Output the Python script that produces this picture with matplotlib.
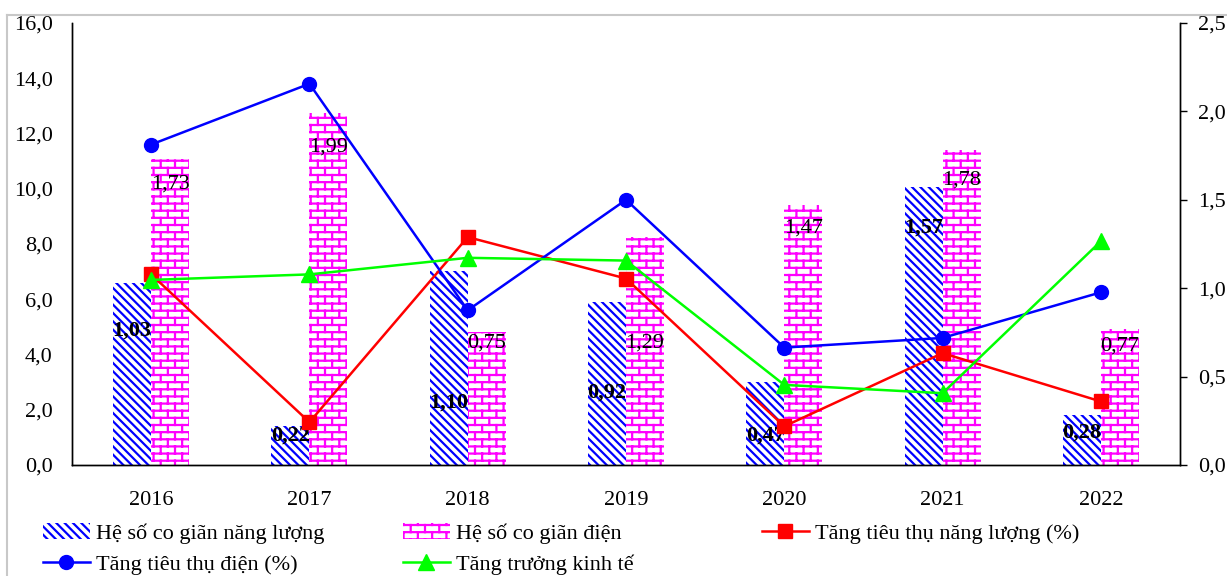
import warnings
import numpy as np
import matplotlib
matplotlib.use("Agg")
import matplotlib.pyplot as plt
import matplotlib.hatch as mhatch
from matplotlib.path import Path
from matplotlib.lines import Line2D
from matplotlib.patches import Patch
from matplotlib.ticker import FuncFormatter, MultipleLocator

warnings.filterwarnings("ignore")

# ---- data ----
years = ["2016", "2017", "2018", "2019", "2020", "2021", "2022"]
he_so_nang_luong = [1.03, 0.22, 1.10, 0.92, 0.47, 1.57, 0.28]   # right axis
he_so_dien = [1.73, 1.99, 0.75, 1.29, 1.47, 1.78, 0.77]          # right axis
tang_nang_luong = [6.9, 1.55, 8.25, 6.75, 1.4, 4.05, 2.3]        # left axis (%)
tang_dien = [11.6, 13.8, 5.6, 9.6, 4.25, 4.6, 6.25]              # left axis (%)
tang_truong_kt = [6.7, 6.9, 7.5, 7.4, 2.9, 2.6, 8.1]             # left axis (%)

# label heights (right axis units), as placed on the original chart
lbl_y_nang_luong = [0.76, 0.165, 0.355, 0.41, 0.165, 1.34, 0.185]
lbl_y_dien = [1.59, 1.80, 0.69, 0.69, 1.34, 1.61, 0.67]


# brick hatch for the electricity bars
class BrickHatch(mhatch.HatchPatternBase):
    rows = 14
    cols = 7

    def __init__(self, hatch, density):
        self.on = 'b' in hatch
        if self.on:
            self.num_vertices = self.rows * 2 + (self.rows - 1) * self.cols * 2 + self.cols * 4
        else:
            self.num_vertices = 0

    def set_vertices_and_codes(self, vertices, codes):
        r, c = self.rows, self.cols
        segs = []
        for i in range(r):
            y = (i + 0.5) / r
            segs.append(((0.0, y), (1.0, y)))
        for i in range(r):
            y0 = (i + 0.5) / r
            y1 = (i + 1.5) / r
            for j in range(c):
                x = (j + 0.25 + 0.5 * (i % 2)) / c
                if y1 <= 1.0:
                    segs.append(((x, y0), (x, y1)))
                else:
                    segs.append(((x, y0), (x, 1.0)))
                    segs.append(((x, 0.0), (x, y1 - 1.0)))
        for k, (a, b) in enumerate(segs):
            vertices[2 * k] = a
            vertices[2 * k + 1] = b
            codes[2 * k] = Path.MOVETO
            codes[2 * k + 1] = Path.LINETO


mhatch._hatch_types.append(BrickHatch)

plt.rcParams['font.family'] = ['Liberation Serif', 'DejaVu Serif']
plt.rcParams['hatch.linewidth'] = 1.6

BLUE = '#0000ff'
PINK = '#ff00ff'
RED = '#ff0000'
GREEN = '#00ff00'
FS = 16
STRIPES = '\\\\\\\\'

fig = plt.figure(figsize=(12.27, 5.76), dpi=100)
ax = fig.add_axes([72 / 1227, 1 - 465 / 576, (1180 - 72) / 1227, (465 - 23) / 576])
ax2 = ax.twinx()

x = np.arange(len(years))
w = 0.24

# bars on the elasticity axis (shown on the right)
ax.bar(x - w / 2, he_so_nang_luong, w, facecolor='white', edgecolor=BLUE,
       hatch=STRIPES, linewidth=0)
ax.bar(x + w / 2, he_so_dien, w, facecolor='white', edgecolor=PINK,
       hatch='b', linewidth=0)

for i in range(len(years)):
    ax.text(x[i] - w / 2, lbl_y_nang_luong[i], f"{he_so_nang_luong[i]:.2f}".replace('.', ','),
            ha='center', va='center', fontsize=FS, fontweight='bold', color='black')
    ax.text(x[i] + w / 2, lbl_y_dien[i], f"{he_so_dien[i]:.2f}".replace('.', ','),
            ha='center', va='center', fontsize=FS, color='black')

# lines on the growth axis (shown on the left)
ax2.plot(x, tang_nang_luong, color=RED, lw=1.8, marker='s', ms=9.5)
ax2.plot(x, tang_dien, color=BLUE, lw=1.8, marker='o', ms=10)
ax2.plot(x, tang_truong_kt, color=GREEN, lw=1.8, marker='^', ms=11)

ax.set_xlim(-0.5, len(years) - 0.5)
ax.set_ylim(0, 2.5)
ax2.set_ylim(0, 16)

fmt = FuncFormatter(lambda v, p: f"{v:.1f}".replace('.', ','))

ax.yaxis.tick_right()
ax.yaxis.set_label_position('right')
ax.yaxis.set_major_locator(MultipleLocator(0.5))
ax.yaxis.set_major_formatter(fmt)
ax.tick_params(axis='y', direction='out', length=5, width=1, pad=8, labelsize=FS)

ax2.yaxis.tick_left()
ax2.yaxis.set_major_locator(MultipleLocator(2))
ax2.yaxis.set_major_formatter(fmt)
ax2.tick_params(axis='y', length=0, pad=14, labelsize=FS)

ax.set_xticks(x)
ax.set_xticklabels(years)
ax.tick_params(axis='x', length=0, pad=19, labelsize=FS)

for a in (ax, ax2):
    a.spines['top'].set_visible(False)
    for s in ('left', 'right', 'bottom'):
        a.spines[s].set_color('black')
        a.spines[s].set_linewidth(1.0)

# legend, laid out in three columns like the original
h_nl = Patch(facecolor='white', edgecolor=BLUE, hatch=STRIPES, linewidth=0)
h_d = Patch(facecolor='white', edgecolor=PINK, hatch='b', linewidth=0)
h_red = Line2D([], [], color=RED, lw=1.8, marker='s', ms=9.5)
h_blue = Line2D([], [], color=BLUE, lw=1.8, marker='o', ms=10)
h_green = Line2D([], [], color=GREEN, lw=1.8, marker='^', ms=11)

cols = [
    (43, [h_nl, h_blue], ["Hệ số co giãn năng lượng", "Tăng tiêu thụ điện (%)"]),
    (403, [h_d, h_green], ["Hệ số co giãn điện", "Tăng trưởng kinh tế"]),
    (762, [h_red], ["Tăng tiêu thụ năng lượng (%)"]),
]
for px, hs, ls in cols:
    leg = fig.legend(hs, ls, loc='upper left', bbox_to_anchor=(px / 1227, 1 - 523 / 576),
                     frameon=False, fontsize=FS, borderpad=0, borderaxespad=0,
                     handlelength=2.1, handletextpad=0.3, labelspacing=0.5, numpoints=1)

# light grey chart border
fig.add_artist(Line2D([7 / 1227, 1], [1 - 15 / 576, 1 - 15 / 576], color='#c8c8c8', lw=1.5))
fig.add_artist(Line2D([7 / 1227, 7 / 1227], [0, 1 - 15 / 576], color='#c8c8c8', lw=1.5))

fig.savefig("out.png", dpi=100)
